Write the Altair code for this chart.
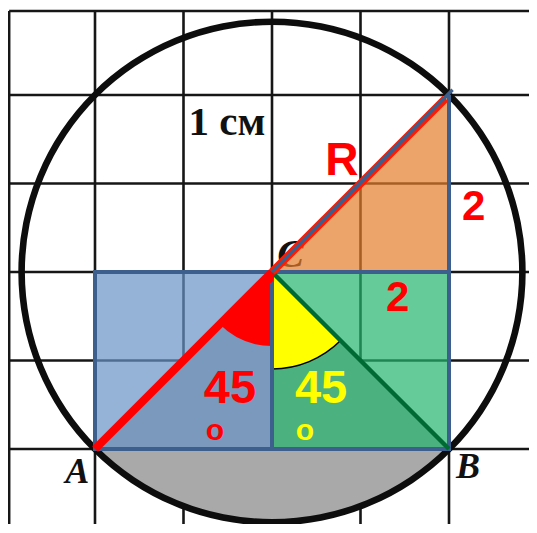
import math
import altair as alt
import pandas as pd

# ---- geometry (grid units, C at origin, y up) ----
grid_x = [-2.97, -2, -1, 0, 1, 2, 2.97]
grid_y = [-2.92, -2, -1, 0, 1, 2, 2.95]
C = (0, 0)
A = (-2, -2)
B = (2, -2)
T = (2, 2)
M = (2, 0)
R_units = 2 * math.sqrt(2)

# labels
lab_text = ["1 см", "R", "2", "2", "45", "o", "45", "o", "A", "B", "C"]
lab_x = [-0.51, 0.79, 2.28, 1.42, -0.475, -0.644, 0.554, 0.373, -2.20, 2.215, 0.21]
lab_y = [1.55, 1.096, 0.588, -0.44, -1.48, -1.898, -1.48, -1.898, -2.384, -2.328, 0.06]
lab_color = ["#111111", "#ff0000", "#ff0000", "#ff0000", "#ff0000", "#ff0000",
             "#ffff00", "#ffff00", "#111111", "#111111", "#111111"]
lab_size = [41, 46, 42, 42, 47, 30, 47, 30, 36, 36, 40]
lab_font = ["Liberation Serif", "Liberation Sans", "Liberation Sans", "Liberation Sans",
            "Liberation Sans", "Liberation Sans", "Liberation Sans", "Liberation Sans",
            "Liberation Serif", "Liberation Serif", "Liberation Serif"]
lab_style = ["normal", "normal", "normal", "normal", "normal", "normal", "normal", "normal",
             "italic", "italic", "italic"]
lab_weight = ["bold"] * 11

# ---- layout ----
U = 88.5            # pixels per grid unit
W, H = 521, 516
CX, CY = 264, 264   # pixel position of C inside the plot
xdom = [(0 - CX) / U, (W - CX) / U]
ydom = [(CY - H) / U, (CY - 0) / U]
RPX = R_units * U


def X(f="x"):
    return alt.X(f"{f}:Q", scale=alt.Scale(domain=xdom, nice=False, zero=False), axis=None)


def Y(f="y"):
    return alt.Y(f"{f}:Q", scale=alt.Scale(domain=ydom, nice=False, zero=False), axis=None)


center_df = pd.DataFrame({"x": [C[0]], "y": [C[1]]})

# grid
vert = pd.DataFrame({"x": grid_x, "x2": grid_x,
                     "y": [grid_y[0]] * 7, "y2": [grid_y[-1]] * 7})
horz = pd.DataFrame({"y": grid_y, "y2": grid_y,
                     "x": [grid_x[0]] * 7, "x2": [grid_x[-1]] * 7})
grid_df = pd.concat([vert, horz])
grid = alt.Chart(grid_df).mark_rule(color="#161616", strokeWidth=2.6, clip=True).encode(
    x=X(), x2="x2:Q", y=Y(), y2="y2:Q")

# gray sector ACB
gray = alt.Chart(center_df).mark_arc(
    radius=RPX, theta=3 * math.pi / 4, theta2=5 * math.pi / 4, color="#a9a9a9"
).encode(x=X(), y=Y())

# circle
circle = alt.Chart(center_df).mark_arc(
    radius=RPX + 3.3, radius2=RPX - 3.3, theta=0, theta2=2 * math.pi, color="#0d0d0d"
).encode(x=X(), y=Y())


def label(i):
    d = pd.DataFrame({"x": [lab_x[i]], "y": [lab_y[i]], "t": [lab_text[i]]})
    return alt.Chart(d).mark_text(
        color=lab_color[i], fontSize=lab_size[i], font=lab_font[i],
        fontStyle=lab_style[i], fontWeight=lab_weight[i],
        align="center", baseline="alphabetic"
    ).encode(x=X(), y=Y(), text="t:N")


# rectangles
rect_df = pd.DataFrame({"x": [A[0], C[0]], "x2": [C[0], B[0]],
                        "y": [A[1], A[1]], "y2": [C[1], C[1]],
                        "c": ["#6892c6", "#24b66d"]})
rect_fill = alt.Chart(rect_df).mark_rect(opacity=0.7).encode(
    x=X(), x2="x2:Q", y=Y(), y2="y2:Q", color=alt.Color("c:N", scale=None))

# orange triangle C-M-T
tri_df = pd.DataFrame({"x": [C[0], T[0]], "y": [C[1], T[1]], "y0": [C[1], M[1]]})
tri = alt.Chart(tri_df).mark_area(color="#e57e2c", opacity=0.7).encode(
    x=X(), y=Y(), y2="y0:Q")

# yellow sector (C, down to CB)
yellow = alt.Chart(center_df).mark_arc(
    radius=97, theta=3 * math.pi / 4, theta2=math.pi, color="#ffff00",
    stroke="#000000", strokeWidth=1.5
).encode(x=X(), y=Y())

# red sector (C, down to CA)
red_sec = alt.Chart(center_df).mark_arc(
    radius=74, theta=math.pi, theta2=5 * math.pi / 4, color="#ff0000"
).encode(x=X(), y=Y())

# blue frame
frame = alt.Chart(rect_df).mark_rect(fillOpacity=0, stroke="#3d5f8e", strokeWidth=4).encode(
    x=X(), x2="x2:Q", y=Y(), y2="y2:Q")
tri_side = pd.DataFrame({"x": [M[0]], "x2": [T[0]], "y": [M[1]], "y2": [T[1]]})
frame_side = alt.Chart(tri_side).mark_rule(color="#3d5f8e", strokeWidth=4).encode(
    x=X(), x2="x2:Q", y=Y(), y2="y2:Q")

# green diagonal C-B
diag_df = pd.DataFrame({"x": [C[0]], "x2": [B[0]], "y": [C[1]], "y2": [B[1]]})
diag = alt.Chart(diag_df).mark_rule(color="#006a35", strokeWidth=4.5).encode(
    x=X(), x2="x2:Q", y=Y(), y2="y2:Q")

# red radius A-C and C-T
ac_df = pd.DataFrame({"x": [A[0]], "x2": [C[0]], "y": [A[1]], "y2": [C[1]]})
red_ac = alt.Chart(ac_df).mark_rule(color="#ff0000", strokeWidth=8).encode(
    x=X(), x2="x2:Q", y=Y(), y2="y2:Q")
ct_df = pd.DataFrame({"x": [C[0]], "x2": [1.96], "y": [C[1]], "y2": [1.96]})
red_ct = alt.Chart(ct_df).mark_rule(color="#ff1a00", strokeWidth=8).encode(
    x=X(), x2="x2:Q", y=Y(), y2="y2:Q")
ctb_df = pd.DataFrame({"x": [C[0]], "x2": [T[0] + 0.04], "y": [C[1]], "y2": [T[1] + 0.06]})
blue_ct = alt.Chart(ctb_df).mark_rule(color="#3d5f8e", strokeWidth=3.5).encode(
    x=X(), x2="x2:Q", y=Y(), y2="y2:Q")
c_dot = alt.Chart(pd.DataFrame({"x": [-0.04], "y": [-0.07]})).mark_point(
    filled=True, color="#ff0000", size=110, opacity=1).encode(x=X(), y=Y())

layers = [grid, gray, circle, label(10), rect_fill, tri, red_sec, yellow, frame, frame_side,
          diag, red_ac, red_ct, blue_ct, c_dot]
layers += [label(i) for i in range(10)]

chart = alt.layer(*layers).properties(
    width=W, height=H, padding=0, autosize=alt.AutoSizeParams(type="none"),
    background="white"
).configure_view(stroke=None)

chart.save("out.html", embed_options={"renderer": "svg", "actions": False})
